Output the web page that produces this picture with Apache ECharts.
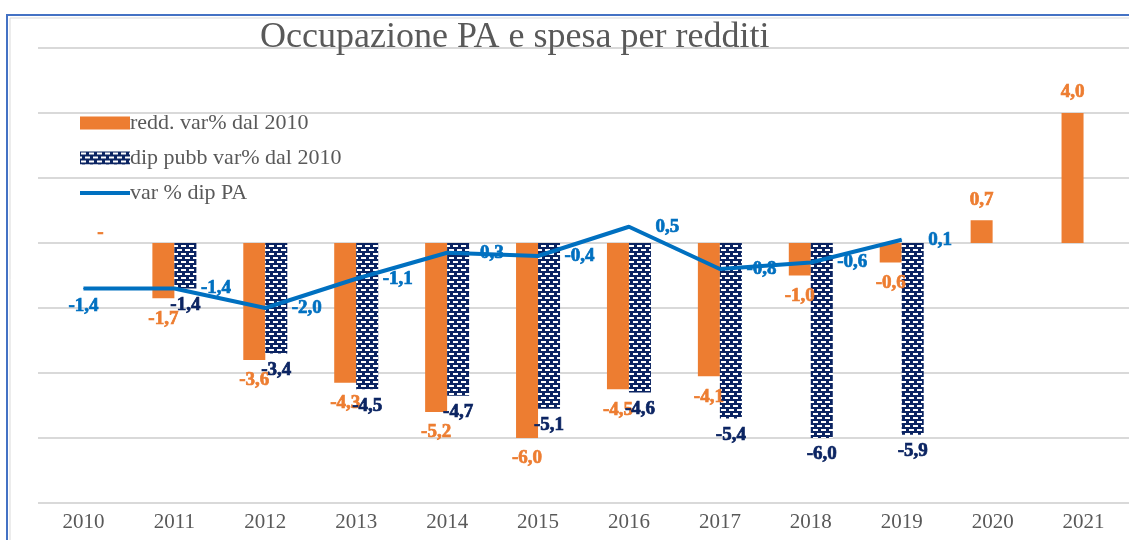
<!DOCTYPE html>
<html>
<head>
<meta charset="utf-8">
<script src="https://cdn.jsdelivr.net/npm/echarts@6/dist/echarts.min.js"></script>
<style>
  html, body { margin: 0; padding: 0; background: #fff; }
  #chart { width: 1129px; height: 540px; }
</style>
</head>
<body>
<div id="chart"></div>
<script>
const years = ['2010', '2011', '2012', '2013', '2014', '2015', '2016', '2017', '2018', '2019', '2020', '2021'];
const reddVar = [0, -1.7, -3.6, -4.3, -5.2, -6.0, -4.5, -4.1, -1.0, -0.6, 0.7, 4.0];
const dipPubbVar = [null, -1.4, -3.4, -4.5, -4.7, -5.1, -4.6, -5.4, -6.0, -5.9, null, null];
const dipPaVar = [-1.4, -1.4, -2.0, -1.1, -0.3, -0.4, 0.5, -0.8, -0.6, 0.1, null, null];

const ORANGE = '#ED7D31';
const NAVY = '#0B2462';
const BLUE = '#0070C0';
const SERIF = '"Liberation Serif", "DejaVu Serif", serif';

// brick-like dotted pattern for the public employees bars
function makePattern() {
  const c = document.createElement('canvas');
  c.width = 8;
  c.height = 8;
  const ctx = c.getContext('2d');
  ctx.fillStyle = NAVY;
  ctx.fillRect(0, 0, 8, 8);
  ctx.fillStyle = '#ffffff';
  ctx.fillRect(1, 1, 5, 2);
  ctx.fillRect(5, 5, 3, 2);
  ctx.fillRect(0, 5, 2, 2);
  return c;
}
const pattern = { image: makePattern(), repeat: 'repeat' };

const fmt = v => v.toFixed(1).replace('.', ',');

// heavy bold labels, a thin outline in the same colour thickens them a bit
const boldLabel = color => ({
  show: true,
  color,
  fontFamily: SERIF,
  fontWeight: 'bold',
  fontSize: 19,
  textBorderColor: color,
  textBorderWidth: 0.7
});

// thick line icon for the legend (outer moves keep the full icon box)
const lineIcon = 'path://M0,0 M0,13 M0,4.5 L50,4.5 L50,8.5 L0,8.5 Z';

const chart = echarts.init(document.getElementById('chart'));

chart.setOption({
  animation: false,
  title: {
    text: 'Occupazione PA e spesa per redditi',
    left: 255,
    top: 15,
    textStyle: { fontFamily: SERIF, fontWeight: 'normal', fontSize: 36, color: '#595959' }
  },
  graphic: [
    { type: 'rect', shape: { x: 7, y: 15, width: 1200, height: 600 }, style: { fill: 'none', stroke: '#4472C4', lineWidth: 2 }, z: 100 },
    { type: 'rect', shape: { x: 10, y: 18, width: 1200, height: 600 }, style: { fill: 'none', stroke: '#d9d9d9', lineWidth: 1 }, z: 100 }
  ],
  legend: {
    orient: 'vertical',
    left: 75,
    top: 107,
    itemGap: 13,
    itemWidth: 50,
    itemHeight: 13,
    textStyle: { fontFamily: SERIF, fontSize: 22, color: '#595959', padding: [0, 0, 0, -5] },
    data: [
      { name: 'redd. var% dal 2010', icon: 'rect' },
      { name: 'dip pubb var% dal 2010', icon: 'rect' },
      { name: 'var % dip PA', icon: lineIcon }
    ]
  },
  grid: { left: 38, right: -2, top: 48, bottom: 37 },
  xAxis: {
    type: 'category',
    data: years,
    axisLine: { show: false },
    axisTick: { show: false },
    axisLabel: { margin: 9, fontFamily: SERIF, fontSize: 21, color: '#595959' }
  },
  yAxis: {
    type: 'value',
    min: -8,
    max: 6,
    interval: 2,
    axisLabel: { show: false },
    axisLine: { show: false },
    axisTick: { show: false },
    splitLine: { lineStyle: { color: '#d9d9d9', width: 2 } }
  },
  series: [
    {
      name: 'redd. var% dal 2010',
      type: 'bar',
      barWidth: 22,
      barGap: '0%',
      itemStyle: { color: ORANGE },
      data: reddVar.map(v => ({
        value: v,
        label: v === 0
          ? { position: 'top', distance: 0, offset: [28, 0] }
          : { position: v < 0 ? 'bottom' : 'top' }
      })),
      label: {
        ...boldLabel(ORANGE),
        distance: 11,
        formatter: p => (p.value === 0 ? '-' : fmt(p.value))
      }
    },
    {
      name: 'dip pubb var% dal 2010',
      type: 'bar',
      barWidth: 22,
      barGap: '0%',
      itemStyle: { color: pattern },
      data: dipPubbVar.map(v => ({
        value: v,
        label: { position: v < 0 ? 'bottom' : 'top' }
      })),
      label: {
        ...boldLabel(NAVY),
        distance: 7,
        formatter: p => fmt(p.value)
      }
    },
    {
      name: 'var % dip PA',
      type: 'line',
      z: 5,
      symbol: 'circle',
      symbolSize: 1,
      itemStyle: { color: BLUE },
      lineStyle: { color: BLUE, width: 4 },
      data: dipPaVar.map((v, i) => ({
        value: v,
        label: i === 0 ? { position: 'bottom', distance: 8 } : { position: 'right' }
      })),
      label: {
        ...boldLabel(BLUE),
        distance: 26,
        formatter: p => fmt(p.value)
      }
    }
  ]
});
</script>
</body>
</html>
